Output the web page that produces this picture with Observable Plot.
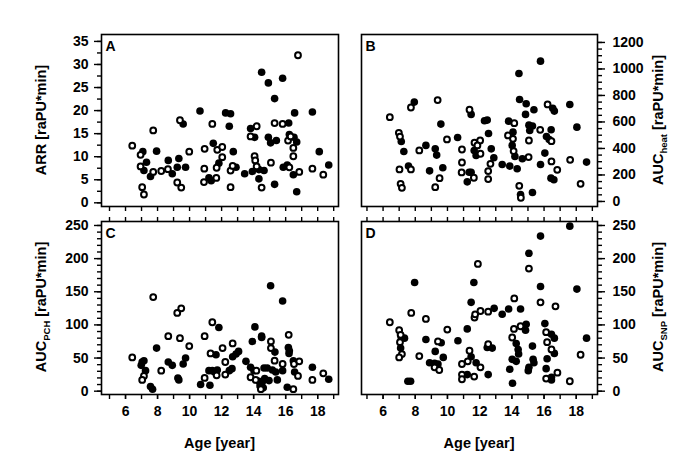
<!DOCTYPE html>
<html><head><meta charset="utf-8">
<script src="https://cdn.jsdelivr.net/npm/d3@7"></script>
<script src="https://cdn.jsdelivr.net/npm/@observablehq/plot@0.6"></script>
<style>
body{margin:0;background:#fff;}
#chart{position:relative;width:685px;height:469px;background:#fff;overflow:hidden;}
#chart svg{position:absolute;}
</style></head><body><div id="chart"></div>
<script>
// rows: [age (year), value, filled (1) / open (0)]
const panelA = [
[6.42,12.4,0],[7.08,11.1,1],[6.94,10.4,0],[7.31,8.8,1],[6.94,7.9,0],[7.15,7.0,1],[7.04,3.4,0],[7.15,1.8,0],
[7.56,5.7,1],[7.73,6.7,0],[7.73,15.7,0],[7.94,11.2,1],[8.23,6.9,0],[8.65,7.3,0],[8.67,9.2,1],[8.92,6.3,1],
[9.23,7.7,1],[9.33,9.6,1],[9.23,4.4,0],[9.48,3.3,0],[9.4,17.9,0],[9.6,17.1,1],[9.75,7.7,1],[9.98,11.1,0],
[10.65,19.9,1],[10.94,11.7,0],[10.92,7.4,0],[10.9,4.5,0],[11.21,5.4,1],[11.35,4.8,1],[11.67,5.4,0],[11.42,17.1,0],
[11.48,12.9,1],[11.73,11.5,0],[12.04,12.1,0],[11.83,8.6,1],[12.04,9.9,0],[11.69,7.6,0],[12.25,19.5,1],[12.56,19.3,1],
[12.48,16.6,1],[12.73,11.1,1],[12.56,7.0,0],[12.69,8.0,0],[12.9,7.7,1],[12.56,3.4,0],[13.44,6.3,1],[13.81,16.1,1],
[14.19,16.6,0],[13.81,14.4,0],[14.06,14.2,1],[14.06,10.1,0],[14.1,9.2,0],[13.92,6.8,1],[14.19,7.9,0],[14.33,5.2,1],
[14.33,7.2,1],[14.65,7.0,1],[14.5,3.3,0],[14.5,28.3,1],[14.92,26.0,1],[15.31,22.6,1],[15.81,27.0,1],[15.31,17.3,0],
[15.81,17.1,0],[16.19,17.3,1],[16.56,19.5,1],[14.92,14.2,1],[15.06,13.0,1],[15.42,13.5,1],[15.08,8.7,0],[15.31,4.0,1],
[15.85,7.7,1],[16.1,8.2,1],[16.23,7.7,0],[16.23,14.8,1],[16.15,13.5,0],[16.31,14.4,0],[16.52,14.2,1],[16.69,13.2,1],
[16.48,11.9,0],[16.48,10.1,0],[16.48,6.1,1],[16.85,6.7,0],[16.69,2.4,1],[16.77,32.0,0],[17.67,19.7,1],[17.67,7.4,0],
[18.1,11.1,1],[18.35,6.1,0],[18.69,8.2,1]
];
const panelB = [
[6.42,636,0],[6.98,518,0],[7.05,490,0],[7.13,453,1],[7.29,377,1],[7.02,242,0],[7.58,267,1],[7.73,242,0],
[7.09,133,0],[7.17,103,0],[7.73,709,0],[7.94,750,1],[8.25,385,0],[8.66,423,1],[8.89,231,1],[9.24,397,1],
[9.33,350,1],[9.39,765,0],[9.59,584,1],[9.71,254,1],[9.51,176,0],[9.24,108,0],[9.97,468,0],[10.63,483,1],
[10.9,392,0],[10.9,294,0],[10.88,219,0],[11.23,148,1],[11.35,221,1],[11.47,221,1],[11.64,179,0],[11.37,692,0],
[11.47,657,1],[11.68,443,0],[12.03,460,0],[11.86,423,0],[11.66,385,1],[11.78,347,1],[12.05,360,0],[12.67,284,0],
[12.53,229,0],[12.53,169,0],[12.3,609,1],[12.47,614,1],[12.55,513,1],[12.72,397,1],[12.88,330,1],[13.4,279,1],
[13.8,606,1],[14.15,591,0],[13.76,498,0],[14.07,523,1],[14.07,473,0],[14.02,423,1],[14.11,380,0],[14.19,340,1],
[13.87,267,1],[14.33,247,1],[14.44,966,1],[14.48,770,1],[14.89,737,1],[15.37,692,1],[14.85,657,1],[15.06,576,1],
[15.28,569,1],[15.11,536,1],[15.06,460,0],[15.04,335,0],[14.65,322,1],[14.46,118,0],[14.54,53,1],[14.56,28,0],
[15.28,68,1],[15.78,1059,1],[15.76,541,0],[15.78,279,1],[16.05,365,1],[16.22,732,0],[16.54,704,1],[16.64,682,1],
[16.44,541,1],[16.15,490,1],[16.32,468,1],[16.46,455,0],[16.46,302,0],[16.82,239,0],[16.43,176,1],[16.61,164,1],
[17.6,732,1],[17.62,314,0],[18.04,561,1],[18.27,133,0],[18.64,297,1]
];
const panelC = [
[6.42,51,0],[7.04,44,1],[7.15,46,1],[6.98,39,1],[7.25,31,1],[7.15,23,0],[7.04,17,0],[7.56,7,1],
[7.69,3,1],[7.73,142,0],[7.94,65,1],[8.23,31,0],[8.67,83,0],[8.67,44,1],[8.92,39,1],[9.23,118,0],
[9.48,125,0],[9.4,80,0],[9.75,50,1],[9.6,41,1],[9.98,68,0],[9.27,20,1],[9.33,17,1],[10.94,83,0],
[11.42,104,0],[11.83,96,1],[11.31,57,0],[11.65,55,1],[12.06,65,0],[12.23,44,0],[11.21,31,1],[11.42,31,1],
[11.56,29,1],[11.73,32,1],[11.69,24,0],[12.23,25,0],[10.69,10,1],[10.94,20,0],[11.27,9,1],[12.48,31,1],
[12.65,34,1],[12.69,52,1],[12.69,72,0],[12.9,56,1],[13.06,60,1],[13.52,45,1],[14.08,97,1],[13.92,75,1],
[14.5,83,1],[14.5,81,1],[13.81,36,1],[14.02,31,1],[13.81,21,0],[14.13,17,0],[14.17,31,0],[14.33,15,1],
[14.54,14,1],[14.69,19,1],[14.96,16,1],[14.65,35,1],[14.85,35,1],[15.17,32,1],[15.38,29,1],[15.08,75,0],
[15.08,65,0],[15.33,59,1],[15.31,46,0],[15.06,159,1],[15.81,136,1],[16.19,85,0],[16.17,66,1],[16.23,61,1],
[16.21,57,1],[15.81,41,0],[15.81,31,1],[15.48,17,1],[16.48,46,1],[16.52,41,0],[16.85,45,0],[16.56,29,1],
[16.77,23,0],[16.1,6,1],[16.48,3,0],[17.67,36,1],[17.67,17,0],[18.35,27,0],[18.69,18,1],
[14.4,8,1],[14.6,5,1],[14.45,3,0]
];
const panelD = [
[6.42,104,0],[7.0,92,0],[7.09,85,0],[7.13,81,1],[7.33,80,1],[7.05,74,0],[7.09,65,1],[7.17,56,0],
[7.0,51,0],[7.54,15,1],[7.71,15,1],[7.75,118,0],[7.96,164,1],[8.25,53,0],[8.66,109,0],[8.66,78,1],
[9.24,60,1],[8.89,43,1],[9.2,42,1],[9.41,41,1],[9.2,36,0],[9.49,32,0],[9.41,75,0],[9.61,73,1],
[9.74,51,1],[9.99,93,0],[10.65,76,1],[11.23,94,1],[11.47,134,1],[11.64,164,1],[11.89,192,0],[11.68,111,0],
[11.72,116,0],[12.05,121,0],[12.53,120,0],[12.9,125,1],[11.37,61,0],[11.47,52,1],[11.26,45,0],[10.9,41,0],
[11.78,43,1],[12.05,36,0],[10.9,25,0],[11.23,25,1],[10.9,18,0],[11.66,22,0],[12.53,25,1],[12.47,66,1],
[12.78,65,1],[12.53,71,0],[13.4,116,1],[13.8,124,1],[14.15,140,0],[14.54,124,1],[14.13,94,0],[14.54,98,0],
[14.89,101,1],[14.85,92,1],[14.02,81,0],[14.27,72,1],[14.39,63,1],[14.42,56,1],[14.02,48,1],[14.27,45,1],
[13.87,33,1],[14.04,12,1],[15.06,208,1],[15.06,185,0],[15.78,234,1],[15.78,158,1],[15.78,134,0],[16.71,128,0],
[15.28,68,1],[15.32,48,1],[15.37,43,1],[15.06,36,1],[15.02,31,1],[16.05,102,1],[16.13,89,0],[16.46,86,1],
[16.64,80,1],[16.19,74,0],[16.46,63,0],[16.64,57,1],[16.19,49,1],[16.13,34,1],[16.83,28,0],[16.46,21,1],
[16.13,19,0],[16.46,17,1],[17.6,249,1],[18.04,154,1],[18.27,55,0],[17.6,15,0],[18.64,80,1]
];

const xMajor = [6, 8, 10, 12, 14, 16, 18];
const xMinor = d3.range(5, 20, 1);
const yMajorA = [0, 5, 10, 15, 20, 25, 30, 35];
const yMinorA = d3.range(0, 35.01, 2.5);
const yMajorB = [0, 200, 400, 600, 800, 1000, 1200];
const yMinorB = d3.range(0, 1200.1, 50);
const yMajorCD = [0, 50, 100, 150, 200, 250];
const yMinorCD = d3.range(0, 250.1, 10);

const FONT = "'Liberation Sans', Arial, Helvetica, sans-serif";
const chart = document.getElementById("chart");

function panel(cfg) {
  const filled = cfg.data.filter(d => d[2] === 1);
  const open = cfg.data.filter(d => d[2] === 0);
  const marks = [
    Plot.axisY({anchor: cfg.yAnchor, ticks: cfg.yMinor, tickSize: 4, strokeWidth: 1.4, tickFormat: () => "", label: null}),
    Plot.axisY({anchor: cfg.yAnchor, ticks: cfg.yMajor, tickSize: 7, strokeWidth: 1.4, tickPadding: cfg.yAnchor === "left" ? 6 : 8, tickFormat: d => String(d), label: null, fontSize: 14, fontWeight: "bold"}),
    Plot.axisX({anchor: "bottom", ticks: xMinor, tickSize: 5, strokeWidth: 1.4, tickFormat: () => "", label: null})
  ];
  if (cfg.xLabels) {
    marks.push(Plot.axisX({anchor: "bottom", ticks: xMajor, tickSize: 5, strokeWidth: 1.4, tickPadding: 7, tickFormat: d => String(d), label: null, fontSize: 14, fontWeight: "bold"}));
    marks.push(Plot.axisX({anchor: "top", ticks: xMinor, tickSize: 5, strokeWidth: 1.4, tickFormat: () => "", label: null}));
  }
  marks.push(
    Plot.frame({stroke: "black", strokeWidth: 1.6}),
    Plot.dot(filled, {x: d => d[0], y: d => d[1], r: 3.8, fill: "black", stroke: "none"}),
    Plot.dot(open, {x: d => d[0], y: d => d[1], r: 2.9, fill: "white", stroke: "black", strokeWidth: 2}),
    Plot.text([cfg.letter], {text: d => d, frameAnchor: "top-left", dx: 4, dy: 7, textAnchor: "start", lineAnchor: "top", fontSize: 14, fontWeight: "bold"})
  );
  const svg = Plot.plot({
    width: cfg.width, height: cfg.height,
    marginLeft: cfg.mL, marginRight: cfg.mR, marginTop: cfg.mT, marginBottom: cfg.mB,
    x: {domain: cfg.xDomain},
    y: {domain: cfg.yDomain},
    style: {fontFamily: FONT, fontSize: "14px", fontWeight: "bold", background: "transparent", overflow: "visible", color: "black"},
    marks
  });
  svg.style.left = cfg.left + "px";
  svg.style.top = cfg.top + "px";
  svg.style.maxWidth = "none";
  chart.appendChild(svg);
  return svg;
}

function title(svg, x, y, parts, rotate) {
  const t = d3.select(svg).append("text")
    .attr("transform", `translate(${x},${y})` + (rotate ? " rotate(-90)" : ""))
    .attr("text-anchor", "middle")
    .attr("fill", "black")
    .style("font-family", FONT).style("font-size", "14.5px").style("font-weight", "bold");
  parts.forEach(p => {
    const s = t.append("tspan").text(p[0]);
    if (p[1] === "sub") s.attr("dy", 4).style("font-size", "9.5px");
    if (p[1] === "up") s.attr("dy", -4);
  });
}

const xDomL = [4.5, 19.3];
const xDomR = [4.66, 19.32];

const sA = panel({data: panelA, left: 0, top: 0, width: 350, height: 215, mL: 101, mR: 12, mT: 34, mB: 9,
  xDomain: xDomL, yDomain: [-0.8, 36.5], yAnchor: "left", yMajor: yMajorA, yMinor: yMinorA, letter: "A", xLabels: false});
const sB = panel({data: panelB, left: 350, top: 0, width: 335, height: 215, mL: 11, mR: 88, mT: 34, mB: 9,
  xDomain: xDomR, yDomain: [-38, 1260], yAnchor: "right", yMajor: yMajorB, yMinor: yMinorB, letter: "B", xLabels: false});
const sC = panel({data: panelC, left: 0, top: 215, width: 350, height: 254, mL: 101, mR: 12, mT: 6, mB: 75,
  xDomain: xDomL, yDomain: [-5, 256], yAnchor: "left", yMajor: yMajorCD, yMinor: yMinorCD, letter: "C", xLabels: true});
const sD = panel({data: panelD, left: 350, top: 215, width: 335, height: 254, mL: 11, mR: 88, mT: 6, mB: 75,
  xDomain: xDomR, yDomain: [-5, 256], yAnchor: "right", yMajor: yMajorCD, yMinor: yMinorCD, letter: "D", xLabels: true});

title(sA, 46, 120, [["ARR [raPU*min]"]], true);
title(sB, 313, 120, [["AUC"], ["heat", "sub"], [" [raPU*min]", "up"]], true);
title(sC, 46, 92, [["AUC"], ["PCH", "sub"], [" [raPU*min]", "up"]], true);
title(sD, 313, 92, [["AUC"], ["SNP", "sub"], [" [raPU*min]", "up"]], true);
title(sC, 219.5, 233, [["Age [year]"]], false);
title(sD, 129, 233, [["Age [year]"]], false);
</script></body></html>
